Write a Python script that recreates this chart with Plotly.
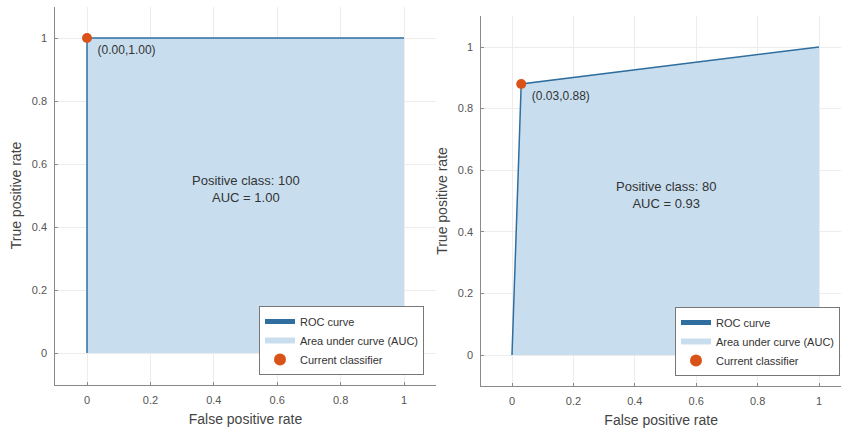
import plotly.graph_objects as go

W, H = 841, 429

# Data
fpr_left = [0.0, 0.0, 1.0]
tpr_left = [0.0, 1.0, 1.0]
op_left = (0.00, 1.00)
label_left = "Positive class: 100<br>AUC = 1.00"

fpr_right = [0.0, 0.03, 1.0]
tpr_right = [0.0, 0.88, 1.0]
op_right = (0.03, 0.88)
label_right = "Positive class: 80<br>AUC = 0.93"

tick_vals = [0, 0.2, 0.4, 0.6, 0.8, 1]
tick_text = ["0", "0.2", "0.4", "0.6", "0.8", "1"]

LINE = "#2f6e9e"
FILL = "rgba(200,222,239,1)"
MARK = "#D95319"
FONT = "Liberation Sans, Arial, sans-serif"

fig = go.Figure()

def add_panel(fpr, tpr, op, xa, ya, leg):
    fig.add_trace(go.Scatter(x=fpr, y=tpr, mode="none", fill="tozeroy", fillcolor=FILL,
                             name="Area under curve (AUC)", xaxis=xa, yaxis=ya, legend=leg, legendrank=2))
    fig.add_trace(go.Scatter(x=fpr, y=tpr, mode="lines", line=dict(color=LINE, width=1.5),
                             name="ROC curve", xaxis=xa, yaxis=ya, legend=leg, legendrank=1))
    fig.add_trace(go.Scatter(x=[op[0]], y=[op[1]], mode="markers+text",
                             marker=dict(color=MARK, size=10),
                             text=[f" ({op[0]:.2f},{op[1]:.2f})"], textposition="bottom right",
                             textfont=dict(size=12, color="#333333", family=FONT),
                             name="Current classifier", xaxis=xa, yaxis=ya, legend=leg, legendrank=3))

add_panel(fpr_left, tpr_left, op_left, "x", "y", "legend")
add_panel(fpr_right, tpr_right, op_right, "x2", "y2", "legend2")

axis_common = dict(showgrid=True, gridcolor="#ececec", gridwidth=1, zeroline=False,
                   showline=True, linecolor="#8a8a8a", linewidth=1, ticks="inside", ticklen=3,
                   tickcolor="#8a8a8a", tickvals=tick_vals, ticktext=tick_text,
                   tickfont=dict(size=11, color="#555555", family=FONT))

def xd(px):
    return px / W

def yd(py):
    return 1 - py / H

title_font = dict(size=14, color="#444444", family=FONT)
fig.update_layout(
    width=W, height=H, margin=dict(l=0, r=0, t=0, b=0),
    paper_bgcolor="white", plot_bgcolor="white",
    font=dict(family=FONT, color="#333333"),
    xaxis=dict(domain=[xd(55.3), xd(435.7)], range=[-0.1, 1.1], anchor="y",
               title=dict(text="False positive rate", font=title_font, standoff=9),
               ticklabelstandoff=5, **axis_common),
    yaxis=dict(domain=[yd(384.5), yd(6.5)], range=[-0.1, 1.1], anchor="x",
               title=dict(text="True positive rate", font=title_font, standoff=6),
               ticklabelstandoff=5, **axis_common),
    xaxis2=dict(domain=[xd(481.3), 1.0], range=[-0.1, (841 - 512) / 307], anchor="y2",
                title=dict(text="False positive rate", font=title_font, standoff=9),
                ticklabelstandoff=5, **axis_common),
    yaxis2=dict(domain=[yd(385.8), yd(16.2)], range=[-0.1, 1.1], anchor="x2",
                title=dict(text="True positive rate", font=title_font, standoff=6),
                ticklabelstandoff=5, **axis_common),
    legend=dict(x=xd(424), y=yd(375), xanchor="right", yanchor="bottom",
                bgcolor="white", bordercolor="#777777", borderwidth=1,
                font=dict(size=11, color="#333333", family=FONT), tracegroupgap=0,
                itemsizing="constant"),
    legend2=dict(x=xd(840), y=yd(376), xanchor="right", yanchor="bottom",
                 bgcolor="white", bordercolor="#777777", borderwidth=1,
                 font=dict(size=11, color="#333333", family=FONT), tracegroupgap=0,
                 itemsizing="constant"),
    showlegend=True,
)

fig.add_annotation(x=0.5, y=0.52, xref="x", yref="y", text=label_left, showarrow=False,
                   font=dict(size=13, color="#333333", family=FONT))
fig.add_annotation(x=0.5, y=0.52, xref="x2", yref="y2", text=label_right, showarrow=False,
                   font=dict(size=13, color="#333333", family=FONT))

fig.write_html("out.html")
